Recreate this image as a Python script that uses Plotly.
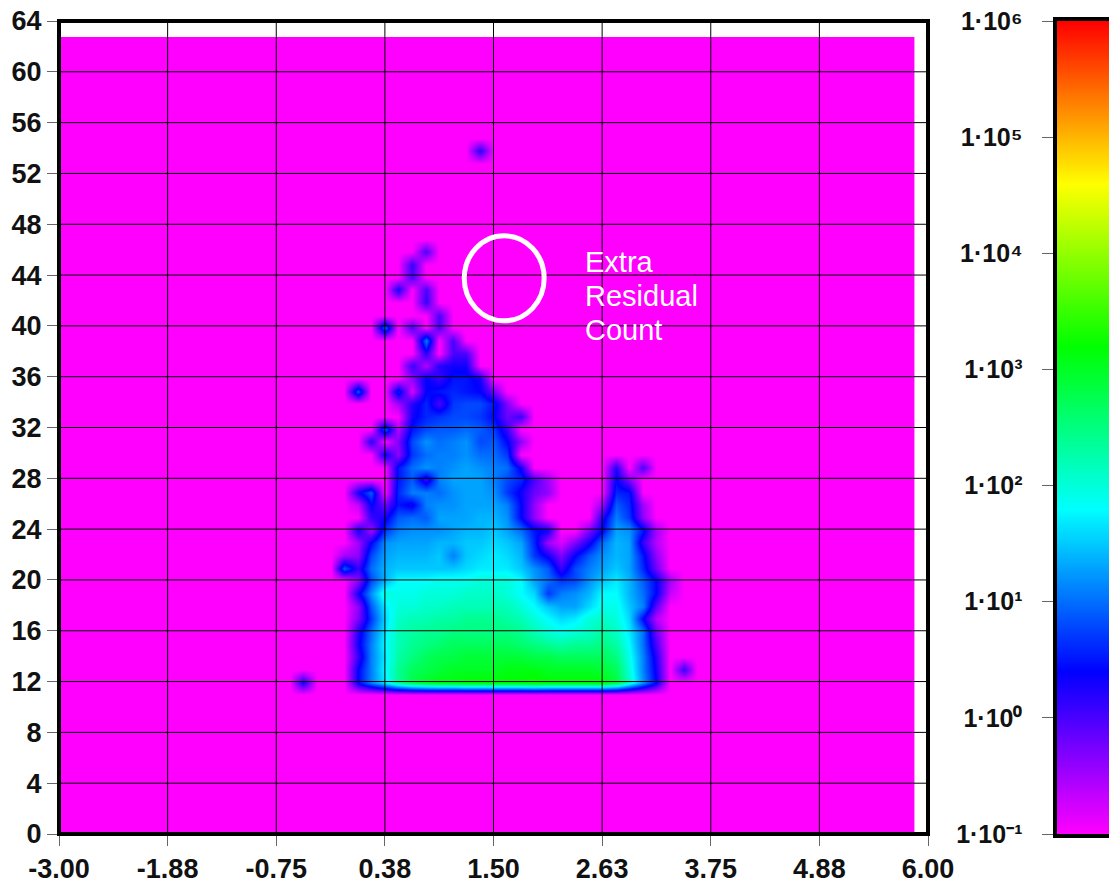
import numpy as np
import plotly.graph_objects as go

E = -1.0  # empty bin: 0.1 on the log colour scale
N_BINS = 64
FIRST_COL = 18  # every row below lists columns 18..46 of the 64-column histogram

# log10(counts), one list per y bin
row_12 = [.3,E,E,E,.4,1.1,1.7,2.4,2.8,3.0,3.1,3.1,3.2,3.2,3.2,3.2,3.2,3.3,3.2,3.2,3.2,3.2,3.2,2.9,2.1,1.2,.4,E,E]
row_13 = [E,E,E,E,.4,1.1,1.8,2.4,2.7,2.8,2.9,3.0,3.0,3.0,3.0,3.1,3.1,3.1,3.0,3.0,3.0,3.0,2.9,2.7,2.0,1.1,.3,E,.1]
row_14 = [E,E,E,E,.1,1.1,1.7,2.3,2.5,2.7,2.8,2.8,2.9,2.9,2.9,2.9,2.9,2.8,2.8,2.7,2.7,2.7,2.7,2.5,1.9,1.1,.2,E,E]
row_15 = [E,E,E,E,.3,1.1,1.8,2.2,2.4,2.5,2.6,2.7,2.7,2.7,2.7,2.7,2.6,2.5,2.4,2.3,2.4,2.4,2.5,2.3,1.8,1.0,0,E,E]
row_16 = [E,E,E,E,.2,1.0,1.7,2.2,2.3,2.4,2.4,2.5,2.5,2.5,2.5,2.5,2.4,2.2,2.0,1.9,2.0,2.1,2.3,2.1,1.7,1.0,-.2,E,E]
row_17 = [E,E,E,E,-.3,.7,1.6,2.1,2.2,2.2,2.3,2.3,2.4,2.4,2.4,2.3,2.2,2.0,1.8,1.6,1.7,2.0,2.1,2.0,1.6,.4,-.6,E,E]
row_18 = [E,E,E,E,-.4,.9,1.7,2.0,2.0,2.1,2.1,2.2,2.2,2.2,2.2,2.2,2.0,1.8,1.5,1.3,1.3,1.6,1.9,1.9,1.5,1.1,-.1,E,E]
row_19 = [E,E,E,E,.3,1.2,2.0,1.9,1.9,2.0,2.0,2.0,2.1,2.1,2.1,2.0,1.8,1.6,.7,1.1,1.2,1.4,1.8,1.8,1.4,1.0,.4,-.7,E]
row_20 = [E,E,E,E,-.4,.8,1.4,1.8,1.8,1.8,1.9,1.9,1.9,2.0,2.0,2.0,1.8,1.3,1.0,.7,.8,1.2,1.5,1.7,1.4,.9,.4,-.5,E]
row_21 = [E,E,E,.9,.1,1.0,1.4,1.5,1.5,1.5,1.5,1.5,1.6,1.7,1.7,1.7,1.5,1.2,.9,.1,.8,1.1,1.3,1.5,1.3,.6,-.2,E,E]
row_22 = [E,E,E,-.5,-.4,.8,1.3,1.4,1.4,1.4,1.5,1.1,1.5,1.6,1.7,1.6,1.4,.7,.3,-.3,.4,.9,1.2,1.4,1.3,.5,-.4,E,E]
row_23 = [E,E,E,E,-.5,.4,1.2,1.3,1.3,1.3,1.4,1.4,1.5,1.5,1.6,1.5,1.3,.6,-.5,-.8,-.3,.3,1.0,1.4,1.3,.1,-.6,E,E]
row_24 = [E,E,E,E,.3,-.5,.7,1.1,1.2,1.2,1.2,1.3,1.4,1.4,1.5,1.3,1.0,.5,.3,E,E,-.3,.4,1.3,1.2,.5,-.5,E,E]
row_25 = [E,E,E,E,E,.1,.3,.9,1.0,.9,1.3,1.3,1.3,1.4,1.4,1.2,.4,-.4,E,E,E,E,.2,1.1,.7,-.4,E,E,E]
row_26 = [E,E,E,E,-.7,.4,-.2,.5,.3,1.1,1.2,1.2,1.3,1.3,1.3,1.1,.4,-.4,E,E,E,E,-.5,.9,.6,-.5,E,E,E]
row_27 = [E,E,E,E,.3,.9,E,.6,1.1,1.1,1.0,1.2,1.3,1.3,1.2,.7,.3,-.2,-.4,E,E,E,E,.6,.5,E,E,E,E]
row_28 = [E,E,E,E,E,E,E,.5,.9,.1,1.1,1.3,1.3,1.3,1.1,.8,.6,.0,-.5,E,E,E,E,.4,-.3,E,E,E,E]
row_29 = [E,E,E,E,E,E,E,.5,1.0,1.2,1.1,1.2,1.3,1.2,1.1,1.0,.3,E,E,E,E,E,E,.2,E,.0,E,E,E]
row_30 = [E,E,E,E,E,E,.4,-.4,.7,1.0,1.1,1.1,1.2,1.0,1.0,.7,E,E,E,E,E,E,E,E,E,E,E,E,E]
row_31 = [E,E,E,E,E,.2,E,-.3,.8,1.2,1.0,1.1,1.2,.8,.9,.4,-.4,E,E,E,E,E,E,E,E,E,E,E,E]
row_32 = [E,E,E,E,E,E,.9,-.6,.5,.8,.9,.9,1.0,.9,.7,.1,E,E,E,E,E,E,E,E,E,E,E,E,E]
row_33 = [E,E,E,E,E,E,E,E,.3,.6,.7,.8,.8,.7,.4,-.2,.1,E,E,E,E,E,E,E,E,E,E,E,E]
row_34 = [E,E,E,E,E,E,E,-.5,.2,.6,.0,.7,.8,.8,.5,-.3,E,E,E,E,E,E,E,E,E,E,E,E,E]
row_35 = [E,E,E,E,.9,E,E,.6,-.8,.4,.5,.6,.5,.4,-.2,E,E,E,E,E,E,E,E,E,E,E,E,E,E]
row_36 = [E,E,E,E,E,E,E,E,-.4,.4,.1,.5,.5,.3,E,E,E,E,E,E,E,E,E,E,E,E,E,E,E]
row_37 = [E,E,E,E,E,E,E,E,.1,-.6,.2,.3,.3,E,E,E,E,E,E,E,E,E,E,E,E,E,E,E,E]
row_38 = [E,E,E,E,E,E,E,E,E,.2,E,.0,.0,E,E,E,E,E,E,E,E,E,E,E,E,E,E,E,E]
row_39 = [E,E,E,E,E,E,E,E,E,1.1,E,.0,E,E,E,E,E,E,E,E,E,E,E,E,E,E,E,E,E]
row_40 = [E,E,E,E,E,E,1.0,E,.0,E,.0,E,E,E,E,E,E,E,E,E,E,E,E,E,E,E,E,E,E]
row_41 = [E,E,E,E,E,E,E,E,E,E,.0,E,E,E,E,E,E,E,E,E,E,E,E,E,E,E,E,E,E]
row_42 = [E,E,E,E,E,E,E,E,E,.1,E,E,E,E,E,E,E,E,E,E,E,E,E,E,E,E,E,E,E]
row_43 = [E,E,E,E,E,E,E,.3,E,.0,E,E,E,E,E,E,E,E,E,E,E,E,E,E,E,E,E,E,E]
row_44 = [E,E,E,E,E,E,E,E,.0,E,E,E,E,E,E,E,E,E,E,E,E,E,E,E,E,E,E,E,E]
row_45 = [E,E,E,E,E,E,E,E,.1,E,E,E,E,E,E,E,E,E,E,E,E,E,E,E,E,E,E,E,E]
row_46 = [E,E,E,E,E,E,E,E,E,.0,E,E,E,E,E,E,E,E,E,E,E,E,E,E,E,E,E,E,E]
row_54 = [E,E,E,E,E,E,E,E,E,E,E,E,E,.2,E,E,E,E,E,E,E,E,E,E,E,E,E,E,E]

filled_rows = {12: row_12, 13: row_13, 14: row_14, 15: row_15, 16: row_16, 17: row_17,
               18: row_18, 19: row_19, 20: row_20, 21: row_21, 22: row_22, 23: row_23,
               24: row_24, 25: row_25, 26: row_26, 27: row_27, 28: row_28, 29: row_29,
               30: row_30, 31: row_31, 32: row_32, 33: row_33, 34: row_34, 35: row_35,
               36: row_36, 37: row_37, 38: row_38, 39: row_39, 40: row_40, 41: row_41,
               42: row_42, 43: row_43, 44: row_44, 45: row_45, 46: row_46, 54: row_54}

x_tick_vals = [-3, -1.875, -0.75, 0.375, 1.5, 2.625, 3.75, 4.875, 6]
x_tick_text = ["-3.00", "-1.88", "-0.75", "0.38", "1.50", "2.63", "3.75", "4.88", "6.00"]
y_tick_vals = list(range(0, 65, 4))
scale_tick_vals = [-1, 0, 1, 2, 3, 4, 5, 6]
scale_tick_text = ["1·10⁻¹", "1·10⁰", "1·10¹", "1·10²", "1·10³", "1·10⁴", "1·10⁵", "1·10⁶"]
note_lines = ["Extra", "Residual", "Count"]
note_y = [45.0, 42.35, 39.65]

W, H = 1109, 885
L, R, T, B = 59, 928, 21, 834
BAR_L = 1056.5
Y_TOP = 62.75
X_RIGHT = -3 + 63 * 9 / N_BINS

z = np.full((N_BINS, N_BINS), E)
for j, vals in filled_rows.items():
    z[j, FIRST_COL:FIRST_COL + len(vals)] = vals
x_centers = -3 + np.arange(N_BINS) * 9 / N_BINS
y_centers = np.arange(N_BINS) * Y_TOP / (N_BINS - 1)

scale_levels = np.linspace(-1, 6, 400)

tick_font = dict(family="Liberation Sans", size=27, color="#111111", weight="bold")
fig = go.Figure()
fig.add_trace(go.Heatmap(x=x_centers, y=y_centers, z=z, coloraxis="coloraxis",
                         zsmooth="best", hoverinfo="skip"))
fig.add_trace(go.Heatmap(x=[0, 1], y=scale_levels, z=np.column_stack([scale_levels, scale_levels]),
                         coloraxis="coloraxis", zsmooth="best", xaxis="x2", yaxis="y2",
                         hoverinfo="skip"))

shapes = []
# uncovered strips of the plotting box
shapes.append(dict(type="rect", xref="x", yref="y", x0=X_RIGHT, x1=6, y0=0, y1=64,
                   fillcolor="white", line_width=0, layer="above"))
shapes.append(dict(type="rect", xref="x", yref="y", x0=-3, x1=6, y0=Y_TOP, y1=64,
                   fillcolor="white", line_width=0, layer="above"))
for v in x_tick_vals[1:-1]:
    shapes.append(dict(type="line", xref="x", yref="y", x0=v, x1=v, y0=0, y1=64,
                       line=dict(color="black", width=1), layer="above"))
for v in y_tick_vals[1:-1]:
    shapes.append(dict(type="line", xref="x", yref="y", x0=-3, x1=6, y0=v, y1=v,
                       line=dict(color="black", width=1), layer="above"))
shapes.append(dict(type="rect", xref="paper", yref="paper", x0=L / W, x1=R / W,
                   y0=(H - B) / H, y1=(H - T) / H,
                   line=dict(color="black", width=4), layer="above"))
shapes.append(dict(type="circle", xref="x", yref="y", x0=1.197, x1=2.025, y0=40.4, y1=47.09,
                   line=dict(color="white", width=5), layer="above"))

axis_common = dict(ticks="outside", ticklen=11, tickcolor="#666666", tickwidth=1,
                   showgrid=False, zeroline=False, tickmode="array", automargin=False)
fig.update_layout(
    width=W, height=H, autosize=False,
    margin=dict(l=0, r=0, t=0, b=0),
    paper_bgcolor="white", plot_bgcolor="white", showlegend=False,
    xaxis=dict(domain=[L / W, R / W], range=[-3, 6], tickvals=x_tick_vals,
               ticktext=x_tick_text, anchor="y", tickfont=tick_font, **axis_common),
    yaxis=dict(domain=[(H - B) / H, (H - T) / H], range=[0, 64], tickvals=y_tick_vals,
               anchor="x", tickfont=tick_font, **axis_common),
    xaxis2=dict(domain=[BAR_L / W, 1], range=[0, 1], visible=True, showticklabels=False,
                ticks="", showgrid=False, zeroline=False, showline=True, linecolor="black",
                linewidth=4, mirror=True, anchor="y2", automargin=False),
    yaxis2=dict(domain=[(H - B) / H, (H - T) / H], range=[-1, 6], tickvals=scale_tick_vals,
                ticktext=scale_tick_text, showline=True, linecolor="black", linewidth=4,
                anchor="x2", ticklabelstandoff=14, tickfont={**tick_font, "size": 25}, **axis_common),
    coloraxis=dict(cmin=-1, cmax=6, showscale=False,
                   colorscale=[[0, "#ff00ff"], [.2, "#0000ff"], [.4, "#00ffff"],
                               [.6, "#00ff00"], [.8, "#ffff00"], [1, "#ff0000"]]),
    shapes=shapes,
    annotations=[dict(text=t, xref="x", yref="y", x=2.45, y=v, xanchor="left", yanchor="middle",
                      align="left", showarrow=False, borderpad=0, xshift=-1,
                      font=dict(family="Liberation Sans", size=29, color="white"))
                 for t, v in zip(note_lines, note_y)],
)
fig.write_html("out.html", config=dict(displayModeBar=False),
               post_script="document.body.style.margin='0';document.body.style.overflow='hidden';")
